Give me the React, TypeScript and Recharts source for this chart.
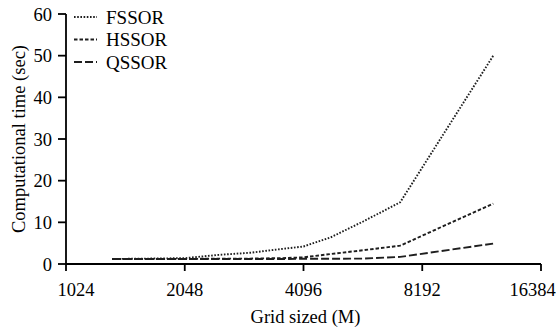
import React from 'react';
import { LineChart, Line, XAxis, YAxis, Legend, Label } from 'recharts';

const gridSizes = [1340, 2048, 2500, 3000, 3600, 4096, 4800, 5800, 7200, 12400];
const fssor = [1.2, 1.4, 2.2, 2.7, 3.6, 4.2, 6.4, 10.2, 14.8, 50];
const hssor = [1.2, 1.2, 1.3, 1.3, 1.4, 1.6, 2.4, 3.3, 4.4, 14.5];
const qssor = [1.2, 1.2, 1.2, 1.2, 1.2, 1.25, 1.25, 1.3, 1.7, 4.9];

const xTicks = [1024, 2048, 4096, 8192, 16384];
const yTicks = [0, 10, 20, 30, 40, 50, 60];

const seriesNames = ['FSSOR', 'HSSOR', 'QSSOR'];
const seriesKeys = ['fssor', 'hssor', 'qssor'];
const seriesDash = ['1.6 1.6', '3.5 2', '8 3'];
const seriesWidth = [1.9, 1.9, 1.9];

const data = gridSizes.map((g, i) => ({ grid: g, fssor: fssor[i], hssor: hssor[i], qssor: qssor[i] }));

const FONT = '"Liberation Serif", "Times New Roman", serif';
const LINE_COLOR = '#1e1e1e';

const XTick = (props: any) => {
  const { x, y, payload, index } = props;
  let dx = 0;
  if (index === 0) dx = 10;
  if (index === xTicks.length - 1) dx = -8.5;
  return (
    <text x={x + dx} y={y} dy="0.71em" textAnchor="middle" fontFamily={FONT} fontSize={18.5} fill="#000">
      {payload.value}
    </text>
  );
};

const LegendContent = () => {
  const rows = [17, 39.5, 62];
  return (
    <svg width={200} height={80} style={{ overflow: 'visible', display: 'block' }}>
      {seriesNames.map((n, i) => (
        <g key={n}>
          <line x1={74} x2={97} y1={rows[i]} y2={rows[i]} stroke={LINE_COLOR} strokeWidth={seriesWidth[i]} strokeDasharray={seriesDash[i]} />
          <text x={106} y={rows[i]} dominantBaseline="central" fontFamily={FONT} fontSize={19} fill="#000">{n}</text>
        </g>
      ))}
    </svg>
  );
};

export default function App() {
  return (
    <div style={{ position: 'absolute', left: 0, top: 0, width: 556, height: 328, background: '#fff' }}>
      <LineChart width={556} height={328} data={data} margin={{ top: 14, right: 15, bottom: 0, left: 0 }}>
        <XAxis
          dataKey="grid"
          type="number"
          scale="log"
          domain={[1024, 16384]}
          ticks={xTicks}
          allowDataOverflow
          height={64}
          tickSize={7}
          tickMargin={12}
          stroke="#000"
          strokeWidth={1.8}
          tick={<XTick />}
          interval={0}
        >
          <Label
            content={(p: any) => {
              const vb = p.viewBox || { x: 66, y: 264, width: 475, height: 64 };
              return (
                <text x={vb.x + vb.width / 2 + 2} y={vb.y + 59} textAnchor="middle" fontFamily={FONT} fontSize={18.5} fill="#000">
                  Grid sized (M)
                </text>
              );
            }}
          />
        </XAxis>
        <YAxis
          type="number"
          domain={[0, 60]}
          ticks={yTicks}
          width={66}
          tickSize={8}
          tickMargin={6}
          stroke="#000"
          strokeWidth={1.8}
          tick={{ fontFamily: FONT, fontSize: 18.5, fill: '#000' }}
          interval={0}
        >
          <Label
            content={(p: any) => {
              const vb = p.viewBox || { x: 0, y: 14, width: 66, height: 250 };
              const cx = vb.x + 19;
              const cy = vb.y + vb.height / 2;
              return (
                <text x={cx} y={cy} transform={`rotate(-90 ${cx} ${cy})`} textAnchor="middle" dominantBaseline="central" fontFamily={FONT} fontSize={18.5} fill="#000">
                  Computational time (sec)
                </text>
              );
            }}
          />
        </YAxis>
        <Legend
          layout="vertical"
          align="center"
          verticalAlign="middle"
          wrapperStyle={{ left: 0, top: 0, width: 200, height: 80 }}
          content={<LegendContent />}
        />
        {seriesKeys.map((k, i) => (
          <Line
            key={k}
            dataKey={k}
            name={seriesNames[i]}
            stroke={LINE_COLOR}
            strokeWidth={seriesWidth[i]}
            strokeDasharray={seriesDash[i]}
            dot={false}
            activeDot={false}
            type="linear"
            isAnimationActive={false}
          />
        ))}
      </LineChart>
    </div>
  );
}
